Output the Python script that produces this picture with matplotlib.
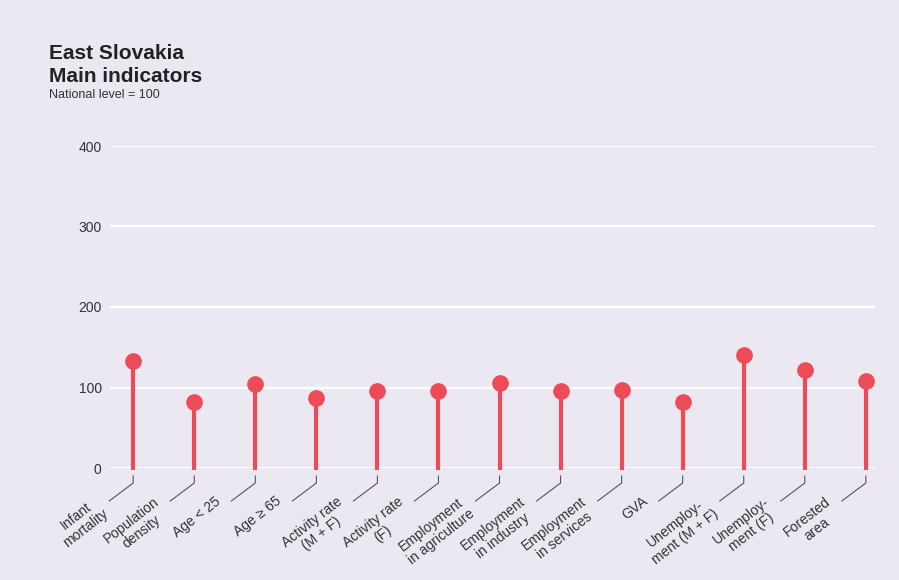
import numpy as np
import matplotlib
matplotlib.use('Agg')
import matplotlib.pyplot as plt
import matplotlib.transforms as mtransforms
from matplotlib import rcParams

rcParams['font.family'] = ['Liberation Sans', 'DejaVu Sans']

# data (national level = 100)
categories = ['Infant\nmortality', 'Population\ndensity', 'Age < 25', 'Age \u2265 65',
              'Activity rate\n(M + F)', 'Activity rate\n(F)', 'Employment\nin agriculture',
              'Employment\nin industry', 'Employment\nin services', 'GVA',
              'Unemploy-\nment (M + F)', 'Unemploy-\nment (F)', 'Forested\narea']
values = [133, 82, 104, 87, 96, 96, 106, 96, 97, 82, 140, 122, 108]
yticks = [0, 100, 200, 300, 400]

bg = '#ECE8F1'
red = '#EE4B58'
txt = '#333333'

fig = plt.figure(figsize=(8.99, 5.8), dpi=100, facecolor=bg)
ax = fig.add_axes([110 / 899, 1 - 468 / 580, 765 / 899, 322 / 580])
ax.set_facecolor(bg)

x = np.arange(len(values))
ax.set_xlim(-0.38, len(values) - 1 + 0.15)
ax.set_ylim(0, 400)

for t in yticks:
    ax.axhline(t, color='white', lw=1.6, zorder=1)

ax.vlines(x, -2, values, color=red, lw=3, zorder=2, clip_on=False)
ax.plot(x, values, 'o', color=red, ms=11, zorder=3, clip_on=False)

for s in ax.spines.values():
    s.set_visible(False)
ax.set_xticks([])
ax.set_yticks(yticks)
ax.tick_params(axis='y', length=0, pad=6, labelsize=10, labelcolor=txt)

# leader lines and rotated labels, offsets in pixels below the zero line
def offset(dx, dy):
    return ax.transData + mtransforms.ScaledTranslation(dx / 100, -dy / 100, fig.dpi_scale_trans)

for xi, lab in zip(x, categories):
    ax.plot([xi, xi, xi], [0, 0, 0], color='#555555', lw=0.8, clip_on=False)
    line = ax.lines[-1]
    px, py = ax.transData.transform((xi, 0))
    line.set_data([px, px, px - 24], [py - 8, py - 15, py - 33])
    line.set_transform(mtransforms.IdentityTransform())
    ax.text(xi, 0, lab, transform=offset(-41, 26), rotation=38, rotation_mode='anchor',
            ha='right', va='top', multialignment='center', fontsize=10, color=txt,
            linespacing=1.15)

fig.text(49 / 899, 1 - 59 / 580, 'East Slovakia', fontsize=15, fontweight='bold',
         color='#222222', va='baseline', ha='left')
fig.text(49 / 899, 1 - 82 / 580, 'Main indicators', fontsize=15, fontweight='bold',
         color='#222222', va='baseline', ha='left')
fig.text(49 / 899, 1 - 98 / 580, 'National level = 100', fontsize=9, color=txt,
         va='baseline', ha='left')

fig.savefig('out.png', dpi=100, facecolor=bg)
